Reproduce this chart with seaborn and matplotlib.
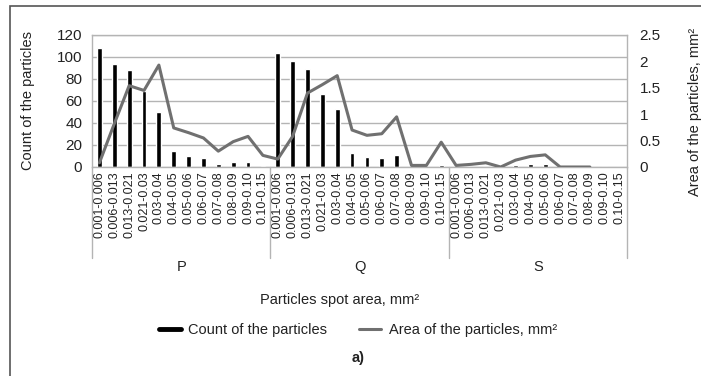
import numpy as np
import pandas as pd
import matplotlib
matplotlib.use("Agg")
import matplotlib.pyplot as plt
import matplotlib.transforms as mtransforms
from matplotlib.lines import Line2D
from matplotlib.patches import Rectangle
import seaborn as sns

groups = ["P", "Q", "S"]
ranges = ["0.001-0.006", "0.006-0.013", "0.013-0.021", "0.021-0.03", "0.03-0.04",
          "0.04-0.05", "0.05-0.06", "0.06-0.07", "0.07-0.08", "0.08-0.09",
          "0.09-0.10", "0.10-0.15"]

count_P = [108, 94, 88, 69, 50, 15, 10, 8, 3, 5, 5, 1]
count_Q = [104, 96, 89, 66, 53, 13, 9, 8, 11, 0, 0, 2]
count_S = [0, 0, 0, 0, 2, 3, 3, 0, 0, 0, 0, 0]

area_P = [0.08, 0.82, 1.54, 1.45, 1.93, 0.74, 0.65, 0.55, 0.30, 0.48, 0.58, 0.22]
area_Q = [0.15, 0.58, 1.40, 1.56, 1.73, 0.70, 0.60, 0.63, 0.95, 0.03, 0.03, 0.47]
area_S = [0.03, 0.05, 0.08, 0.0, 0.13, 0.20, 0.23, 0.0, 0.0, 0.0, np.nan, np.nan]

df = pd.DataFrame({
    "group": np.repeat(groups, len(ranges)),
    "range": ranges * len(groups),
    "count": count_P + count_Q + count_S,
    "area": area_P + area_Q + area_S,
})
df["pos"] = np.arange(len(df))

sns.set_style("white")
plt.rcParams["font.family"] = ["Liberation Sans", "DejaVu Sans"]
txt = "#222222"
grid_c = "#b4b4b4"
line_c = "#707070"

fig = plt.figure(figsize=(7.01, 3.76), dpi=100)
ax = fig.add_axes([92 / 701, 1 - 167 / 376, 535 / 701, 132 / 376])

sns.barplot(data=df, x="pos", y="count", native_scale=True, color="black",
            width=0.32, ax=ax, saturation=1)
ax.set_ylim(0, 120)
ax.set_yticks(range(0, 121, 20))
ax.yaxis.grid(True, color=grid_c, lw=1)
ax.set_axisbelow(True)
for s in ax.spines.values():
    s.set_color(grid_c)
    s.set_linewidth(1)

ax2 = ax.twinx()
sns.lineplot(data=df, x="pos", y="area", ax=ax2, color=line_c, lw=2.2)
ax2.set_ylim(0, 2.5)
ax2.set_yticks([0, 0.5, 1, 1.5, 2, 2.5])
ax2.set_yticklabels(["0", "0.5", "1", "1.5", "2", "2.5"])
for s in ax2.spines.values():
    s.set_visible(False)

ax.set_xlim(-0.5, len(df) - 0.5)
ax.set_xticks(df["pos"])
ax.set_xticklabels(df["range"], rotation=90, va="top", ha="center",
                   fontsize=9, color=txt)
ax.tick_params(axis="x", length=0, pad=3)
ax.tick_params(axis="y", length=0, pad=7, labelsize=11, labelcolor=txt)
ax2.tick_params(axis="y", length=0, pad=9, labelsize=11, labelcolor=txt)
ax.set_xlabel("")
ax.set_ylabel("Count of the particles", fontsize=10.5, color=txt)
ax.yaxis.set_label_coords(-0.107, 0.5)
ax2.set_ylabel("Area of the particles, mm²", fontsize=10.5, color=txt)
ax2.yaxis.set_label_coords(1.114, 0.42)

# group separators and labels
n = len(ranges)
for k in range(len(groups) + 1):
    ax.axvline(k * n - 0.5, ymin=-0.69, ymax=0, color=grid_c, lw=1, clip_on=False)
trans = mtransforms.blended_transform_factory(ax.transData, ax.transAxes)
for k, g in enumerate(groups):
    ax.text(k * n + (n - 1) / 2, -0.76, g, transform=trans, ha="center",
            va="center", fontsize=10.5, color=txt)

fig.text(340 / 701, 1 - 300 / 376, "Particles spot area, mm²", ha="center",
         va="center", fontsize=10.5, color=txt)
handles = [Line2D([], [], color="black", lw=3.5),
           Line2D([], [], color=line_c, lw=2.2)]
fig.legend(handles, ["Count of the particles", "Area of the particles, mm²"],
           loc="center", bbox_to_anchor=(358 / 701, 1 - 330 / 376), ncol=2,
           frameon=False, fontsize=10.5, handlelength=1.5, handletextpad=0.5,
           columnspacing=2.2, labelcolor=txt)
fig.text(358 / 701, 1 - 358 / 376, "a)", ha="center", va="center",
         fontsize=10.5, fontweight="bold", color=txt)

# outer frame (top and left edges)
fig.add_artist(Rectangle((10 / 701, -0.1), 1.0, 1.1 - 6 / 376, transform=fig.transFigure,
                         fill=False, edgecolor="#555555", lw=1.2))

fig.savefig("out.png", dpi=100)
